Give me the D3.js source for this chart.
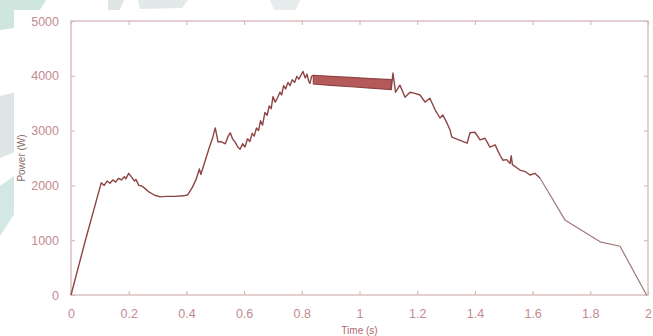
<!DOCTYPE html>
<html>
<head>
<meta charset="utf-8">
<script src="https://cdn.jsdelivr.net/npm/d3@7"></script>
<style>
  html, body { margin: 0; padding: 0; background: #ffffff; }
  svg { display: block; }
  text { font-family: "Liberation Sans", Arial, sans-serif; }
</style>
</head>
<body>
<svg id="chart" width="653" height="336"></svg>
<script>
// Power drawn over one cycle (s, W)
const timeS = [
  0, 0.05, 0.105, 0.115, 0.125, 0.135, 0.145, 0.155, 0.165, 0.175, 0.185, 0.19, 0.2,
  0.21, 0.22, 0.225, 0.235, 0.245, 0.255, 0.27, 0.29, 0.31, 0.33, 0.36, 0.39, 0.405,
  0.42, 0.433, 0.445, 0.45, 0.465, 0.48, 0.49, 0.5, 0.51, 0.52, 0.535, 0.545, 0.552,
  0.56, 0.57, 0.578, 0.586, 0.595, 0.603, 0.612, 0.62, 0.628, 0.635, 0.643, 0.65,
  0.657, 0.664, 0.672, 0.68, 0.687, 0.694, 0.7, 0.708, 0.716, 0.724, 0.73, 0.737,
  0.744, 0.752, 0.759, 0.767, 0.775, 0.783, 0.79, 0.798, 0.804, 0.812, 0.818, 0.824,
  0.828, 0.834, 0.84
];
const powerW = [
  0, 1000, 2050, 2000, 2080, 2040, 2100, 2060, 2130, 2100, 2160, 2120, 2220,
  2150, 2080, 2110, 2000, 1990, 1950, 1880, 1820, 1790, 1800, 1800, 1810, 1830,
  1960, 2100, 2300, 2200, 2450, 2700, 2850, 3050, 2790, 2800, 2760, 2900, 2960,
  2850, 2780, 2700, 2660, 2760, 2700, 2850, 2800, 2950, 2900, 3050, 3000,
  3180, 3100, 3330, 3280, 3450, 3400, 3620, 3520, 3600, 3700, 3650, 3820,
  3760, 3880, 3820, 3930, 3880, 3990, 3940, 4020, 4080, 3960, 4030, 3900,
  3860, 3990, 4010
];

// Fast switching interval: envelope of the oscillation
const bandTime = [0.84, 0.9, 0.97, 1.04, 1.11];
const bandHigh = [4010, 3990, 3970, 3950, 3930];
const bandLow  = [3850, 3825, 3800, 3775, 3750];

// After the switching interval
const timeS2 = [
  1.11, 1.116, 1.125, 1.14, 1.158, 1.175, 1.192, 1.21, 1.227, 1.244, 1.262, 1.279,
  1.289, 1.303, 1.314, 1.32, 1.373, 1.383, 1.4, 1.418, 1.435, 1.452, 1.47, 1.487,
  1.497, 1.51, 1.522, 1.526, 1.53, 1.556, 1.575, 1.591, 1.608, 1.626, 1.712, 1.834,
  1.903, 1.995
];
const powerW2 = [
  3750, 4050, 3700, 3830, 3610, 3700, 3680, 3650, 3520, 3590, 3380, 3230,
  3285, 3140, 3010, 2880, 2770, 2960, 2970, 2830, 2860, 2700, 2740, 2550,
  2460, 2470, 2400, 2540, 2380, 2280, 2250, 2190, 2220, 2130, 1370, 970,
  890, 0
];

const xTicks = [0, 0.2, 0.4, 0.6, 0.8, 1, 1.2, 1.4, 1.6, 1.8, 2];
const yTicks = [0, 1000, 2000, 3000, 4000, 5000];

const svg = d3.select("#chart");
const W = 653, H = 336;
const plot = { left: 71, right: 648, top: 21, bottom: 295 };

// Faint background shapes behind the figure
const bg = svg.append("g");
bg.append("path").attr("d", "M0,0 L46,0 C40,12 30,22 14,28 L0,30 Z").attr("fill", "#cfe6df");
bg.append("path").attr("d", "M108,0 L124,0 L118,14 L108,12 Z").attr("fill", "#dfe5e5");
bg.append("path").attr("d", "M138,0 L188,0 L182,8 L140,9 Z").attr("fill", "#e3e8e8");
bg.append("path").attr("d", "M270,0 L300,0 L296,10 L274,10 Z").attr("fill", "#e6ebeb");
bg.append("path").attr("d", "M0,96 L16,92 L20,150 L0,158 Z").attr("fill", "#dfe5e5");
bg.append("path").attr("d", "M0,186 L22,170 L26,196 L0,236 Z").attr("fill", "#d3e8e4");

// Figure area
svg.append("rect").attr("x", 14).attr("y", 10).attr("width", W - 14).attr("height", H - 10)
  .attr("fill", "#ffffff");

const x = d3.scaleLinear().domain([0, 2]).range([plot.left, plot.right]);
const y = d3.scaleLinear().domain([0, 5000]).range([plot.bottom, plot.top]);

const axisColor = "#d8bcbc";
const labelColor = "#c48a90";

// Box
svg.append("rect")
  .attr("x", plot.left).attr("y", plot.top)
  .attr("width", plot.right - plot.left).attr("height", plot.bottom - plot.top)
  .attr("fill", "none").attr("stroke", axisColor).attr("stroke-width", 1.4);

function styleAxis(g) {
  g.select(".domain").remove();
  g.selectAll(".tick line").attr("stroke", axisColor).attr("stroke-width", 1.2);
  g.selectAll(".tick text").attr("fill", labelColor).attr("font-size", 12.5);
}

svg.append("g").attr("transform", `translate(0,${plot.bottom})`)
  .call(d3.axisBottom(x).tickValues(xTicks).tickSize(-4).tickPadding(14).tickFormat(d3.format("~g")))
  .call(styleAxis);
svg.append("g").attr("transform", `translate(0,${plot.top})`)
  .call(d3.axisTop(x).tickValues(xTicks).tickSize(-4).tickFormat(""))
  .call(styleAxis);
svg.append("g").attr("transform", `translate(${plot.left},0)`)
  .call(d3.axisLeft(y).tickValues(yTicks).tickSize(-4).tickPadding(12).tickFormat(d3.format("d")))
  .call(styleAxis);
svg.append("g").attr("transform", `translate(${plot.right},0)`)
  .call(d3.axisRight(y).tickValues(yTicks).tickSize(-4).tickFormat(""))
  .call(styleAxis);

// Axis titles
svg.append("text").attr("x", (plot.left + plot.right) / 2).attr("y", 334)
  .attr("text-anchor", "middle").attr("font-size", 10).attr("fill", "#b0666c")
  .text("Time (s)");
svg.append("text")
  .attr("transform", `translate(25,${(plot.top + plot.bottom) / 2}) rotate(-90)`)
  .attr("text-anchor", "middle").attr("font-size", 10).attr("fill", "#8c6a6a")
  .text("Power (W)");

const lineColor = "#8f4444";
const line = d3.line().x(d => x(d[0])).y(d => y(d[1]));

svg.append("path")
  .datum(timeS.map((t, i) => [t, powerW[i]]))
  .attr("d", line).attr("fill", "none")
  .attr("stroke", lineColor).attr("stroke-width", 1.4).attr("stroke-linejoin", "round");

const area = d3.area().x(d => x(d.t)).y0(d => y(d.lo)).y1(d => y(d.hi));
svg.append("path")
  .datum(bandTime.map((t, i) => ({ t, hi: bandHigh[i], lo: bandLow[i] })))
  .attr("d", area).attr("fill", "#b55a5a")
  .attr("stroke", lineColor).attr("stroke-width", 1.2);

// Descent: noisy part up to the last jitter, then the smooth tail drawn lighter
const descent = timeS2.map((t, i) => [t, powerW2[i]]);
const tailStart = timeS2.indexOf(1.626);
svg.append("path")
  .datum(descent.slice(0, tailStart + 1))
  .attr("d", line).attr("fill", "none")
  .attr("stroke", lineColor).attr("stroke-width", 1.4).attr("stroke-linejoin", "round");
svg.append("path")
  .datum(descent.slice(tailStart))
  .attr("d", line).attr("fill", "none")
  .attr("stroke", "#a07878").attr("stroke-width", 1.2).attr("stroke-linejoin", "round");
</script>
</body>
</html>
